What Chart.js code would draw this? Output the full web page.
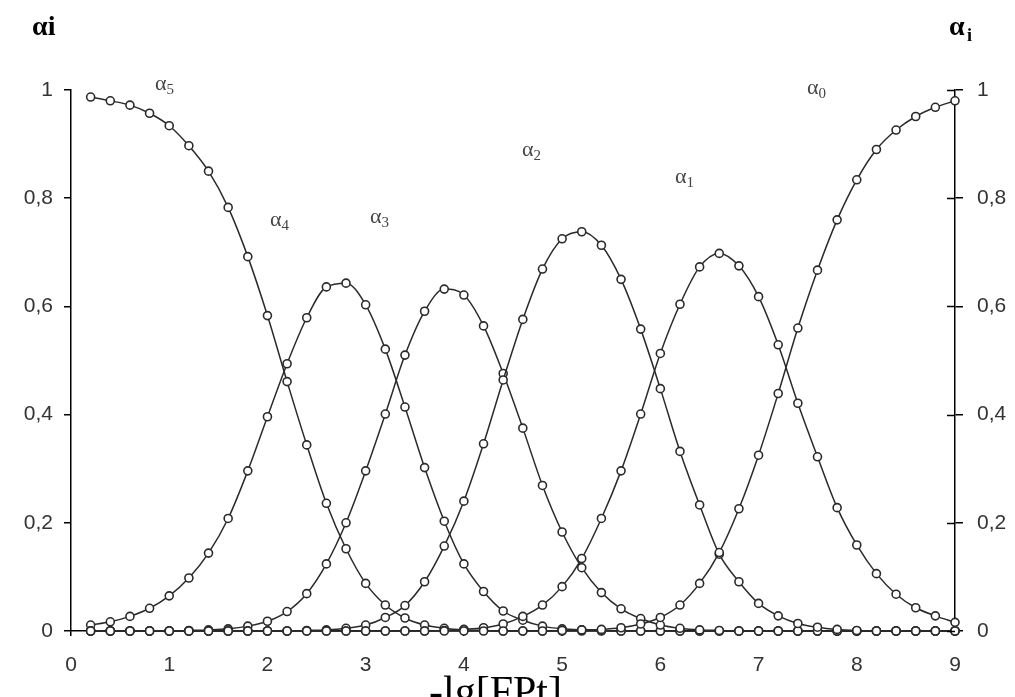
<!DOCTYPE html>
<html>
<head>
<meta charset="utf-8">
<script src="https://cdn.jsdelivr.net/npm/chart.js@4.4.0/dist/chart.umd.min.js"></script>
<style>
  html, body { margin: 0; padding: 0; background: #fff; }
  #wrap { width: 1015px; height: 697px; }
</style>
</head>
<body>
<div id="wrap"><canvas id="dist" width="1015" height="697"></canvas></div>
<script>
// -lg[FPt] values where the fractions were evaluated
const xValues = [
  0.2, 0.4, 0.6, 0.8, 1.0, 1.2, 1.4, 1.6, 1.8, 2.0,
  2.2, 2.4, 2.6, 2.8, 3.0, 3.2, 3.4, 3.6, 3.8, 4.0,
  4.2, 4.4, 4.6, 4.8, 5.0, 5.2, 5.4, 5.6, 5.8, 6.0,
  6.2, 6.4, 6.6, 6.8, 7.0, 7.2, 7.4, 7.6, 7.8, 8.0,
  8.2, 8.4, 8.6, 8.8, 9.0
];

// mole fractions of each species
const alpha0 = [
  0, 0, 0, 0, 0, 0, 0, 0, 0, 0,
  0, 0, 0, 0, 0, 0, 0, 0, 0, 0,
  0, 0, 0, 0, 0.001, 0.002, 0.003, 0.006, 0.013, 0.025,
  0.048, 0.088, 0.145, 0.226, 0.325, 0.439, 0.560, 0.667, 0.760, 0.834,
  0.890, 0.926, 0.951, 0.968, 0.980
];
const alpha1 = [
  0, 0, 0, 0, 0, 0, 0, 0, 0, 0,
  0, 0, 0, 0, 0, 0, 0, 0, 0.001, 0.003,
  0.006, 0.013, 0.027, 0.048, 0.082, 0.134, 0.208, 0.296, 0.401, 0.513,
  0.604, 0.673, 0.698, 0.675, 0.618, 0.529, 0.421, 0.322, 0.228, 0.159,
  0.106, 0.068, 0.043, 0.028, 0.016
];
const alpha2 = [
  0, 0, 0, 0, 0, 0, 0, 0, 0, 0,
  0, 0.001, 0.002, 0.005, 0.011, 0.025, 0.047, 0.091, 0.157, 0.240,
  0.346, 0.464, 0.576, 0.669, 0.725, 0.738, 0.713, 0.650, 0.558, 0.448,
  0.332, 0.233, 0.142, 0.091, 0.051, 0.028, 0.014, 0.007, 0.003, 0.001,
  0, 0, 0, 0, 0
];
const alpha3 = [
  0, 0, 0, 0, 0, 0.001, 0.002, 0.004, 0.009, 0.018,
  0.036, 0.069, 0.124, 0.200, 0.296, 0.401, 0.510, 0.591, 0.632, 0.621,
  0.564, 0.476, 0.375, 0.269, 0.183, 0.117, 0.071, 0.041, 0.023, 0.011,
  0.005, 0.002, 0.001, 0, 0, 0, 0, 0, 0, 0,
  0, 0, 0, 0, 0
];
const alpha4 = [
  0.011, 0.017, 0.027, 0.042, 0.065, 0.098, 0.144, 0.208, 0.296, 0.396,
  0.494, 0.579, 0.636, 0.643, 0.603, 0.521, 0.414, 0.302, 0.203, 0.124,
  0.073, 0.037, 0.020, 0.009, 0.004, 0.002, 0.001, 0, 0, 0,
  0, 0, 0, 0, 0, 0, 0, 0, 0, 0,
  0, 0, 0, 0, 0
];
const alpha5 = [
  0.987, 0.980, 0.972, 0.957, 0.934, 0.897, 0.850, 0.783, 0.692, 0.583,
  0.461, 0.344, 0.236, 0.152, 0.088, 0.048, 0.024, 0.011, 0.005, 0.002,
  0.001, 0, 0, 0, 0, 0, 0, 0, 0, 0,
  0, 0, 0, 0, 0, 0, 0, 0, 0, 0,
  0, 0, 0, 0, 0
];

const seriesNames = ['0', '1', '2', '3', '4', '5'];
const xTickLabels = ['0', '1', '2', '3', '4', '5', '6', '7', '8', '9'];
const yTickLabels = ['0', '0,2', '0,4', '0,6', '0,8', '1'];

const INK = '#2a2a2a';
const TICK_FONT = { family: "'Liberation Sans', Arial, sans-serif", size: 21 };

function toPoints(ys) {
  return xValues.map((x, i) => ({ x: x, y: ys[i] }));
}

function makeSet(label, ys) {
  return {
    label: label,
    data: toPoints(ys),
    borderColor: INK,
    borderWidth: 1.5,
    cubicInterpolationMode: 'monotone',
    pointRadius: 4,
    pointBorderWidth: 1.6,
    pointBorderColor: INK,
    pointBackgroundColor: '#fff',
    clip: false
  };
}

// label spots for the species names, in canvas pixels (left edge of the alpha, middle)
const nameSpots = [
  { x: 807, y: 88 },
  { x: 675, y: 177 },
  { x: 522, y: 150 },
  { x: 370, y: 217 },
  { x: 270, y: 220 },
  { x: 155, y: 84 }
];

const whiteBg = {
  id: 'whiteBg',
  beforeDraw(chart) {
    const ctx = chart.ctx;
    ctx.save();
    ctx.fillStyle = '#fff';
    ctx.fillRect(0, 0, chart.width, chart.height);
    ctx.restore();
  }
};

const annotations = {
  id: 'annotations',
  afterDraw(chart) {
    const ctx = chart.ctx;
    const area = chart.chartArea;
    const y2 = chart.scales.y2;
    ctx.save();

    // inner half of the right axis ticks
    ctx.strokeStyle = '#000';
    ctx.lineWidth = 1.5;
    y2.ticks.forEach(t => {
      const py = Math.round(y2.getPixelForValue(t.value)) + 0.5;
      ctx.beginPath();
      ctx.moveTo(area.right - 8, py);
      ctx.lineTo(area.right, py);
      ctx.stroke();
    });

    // axis titles
    ctx.fillStyle = '#000';
    ctx.textBaseline = 'alphabetic';
    ctx.font = "bold 28px 'Liberation Serif', serif";
    ctx.fillText('\u03b1i', 32, 35);
    ctx.fillText('\u03b1', 949, 35);
    ctx.font = "bold 18px 'Liberation Serif', serif";
    ctx.fillText('i', 967, 41);

    ctx.font = "42px 'Liberation Serif', serif";
    ctx.fillText('-lg[FPt]', 429, 705);

    // species names
    ctx.fillStyle = '#444';
    seriesNames.forEach((n, i) => {
      const s = nameSpots[i];
      ctx.textBaseline = 'middle';
      ctx.font = "22px 'Liberation Serif', serif";
      ctx.fillText('\u03b1', s.x, s.y);
      const w = ctx.measureText('\u03b1').width;
      ctx.font = "15px 'Liberation Serif', serif";
      ctx.fillText(n, s.x + w, s.y + 6);
    });
    ctx.restore();
  }
};

const ctx = document.getElementById('dist');
new Chart(ctx, {
  type: 'line',
  data: {
    datasets: [
      makeSet('\u03b10', alpha0),
      makeSet('\u03b11', alpha1),
      makeSet('\u03b12', alpha2),
      makeSet('\u03b13', alpha3),
      makeSet('\u03b14', alpha4),
      makeSet('\u03b15', alpha5)
    ]
  },
  options: {
    responsive: false,
    animation: false,
    layout: { padding: { top: 90, left: 0, right: 0, bottom: 0 } },
    plugins: {
      legend: { display: false },
      tooltip: { enabled: false }
    },
    scales: {
      x: {
        type: 'linear',
        min: 0,
        max: 9,
        afterFit(s) { s.height = 66; },
        afterBuildTicks(s) { s.ticks = xTickLabels.map((_, i) => ({ value: i })); },
        ticks: {
          padding: 17,
          color: '#333',
          font: TICK_FONT,
          maxRotation: 0,
          autoSkip: false,
          callback: (v, i) => xTickLabels[i]
        },
        grid: { drawOnChartArea: false, drawTicks: true, tickLength: 5, color: '#000', lineWidth: 1.5 },
        border: { display: true, color: '#000', width: 1.5 }
      },
      y: {
        position: 'left',
        min: 0,
        max: 1,
        afterFit(s) { s.width = 71; },
        afterBuildTicks(s) { s.ticks = yTickLabels.map((_, i) => ({ value: i * 0.2 })); },
        ticks: {
          padding: 11,
          color: '#333',
          font: TICK_FONT,
          autoSkip: false,
          callback: (v, i) => yTickLabels[i]
        },
        grid: { drawOnChartArea: false, drawTicks: true, tickLength: 7, color: '#000', lineWidth: 1.5 },
        border: { display: true, color: '#000', width: 1.5 }
      },
      y2: {
        position: 'right',
        min: 0,
        max: 1,
        afterFit(s) { s.width = 60; },
        afterBuildTicks(s) { s.ticks = yTickLabels.map((_, i) => ({ value: i * 0.2 })); },
        ticks: {
          padding: 14,
          color: '#333',
          font: TICK_FONT,
          autoSkip: false,
          callback: (v, i) => yTickLabels[i]
        },
        grid: { drawOnChartArea: false, drawTicks: true, tickLength: 8, color: '#000', lineWidth: 1.5 },
        border: { display: true, color: '#000', width: 1.5 }
      }
    }
  },
  plugins: [whiteBg, annotations]
});
</script>
</body>
</html>
